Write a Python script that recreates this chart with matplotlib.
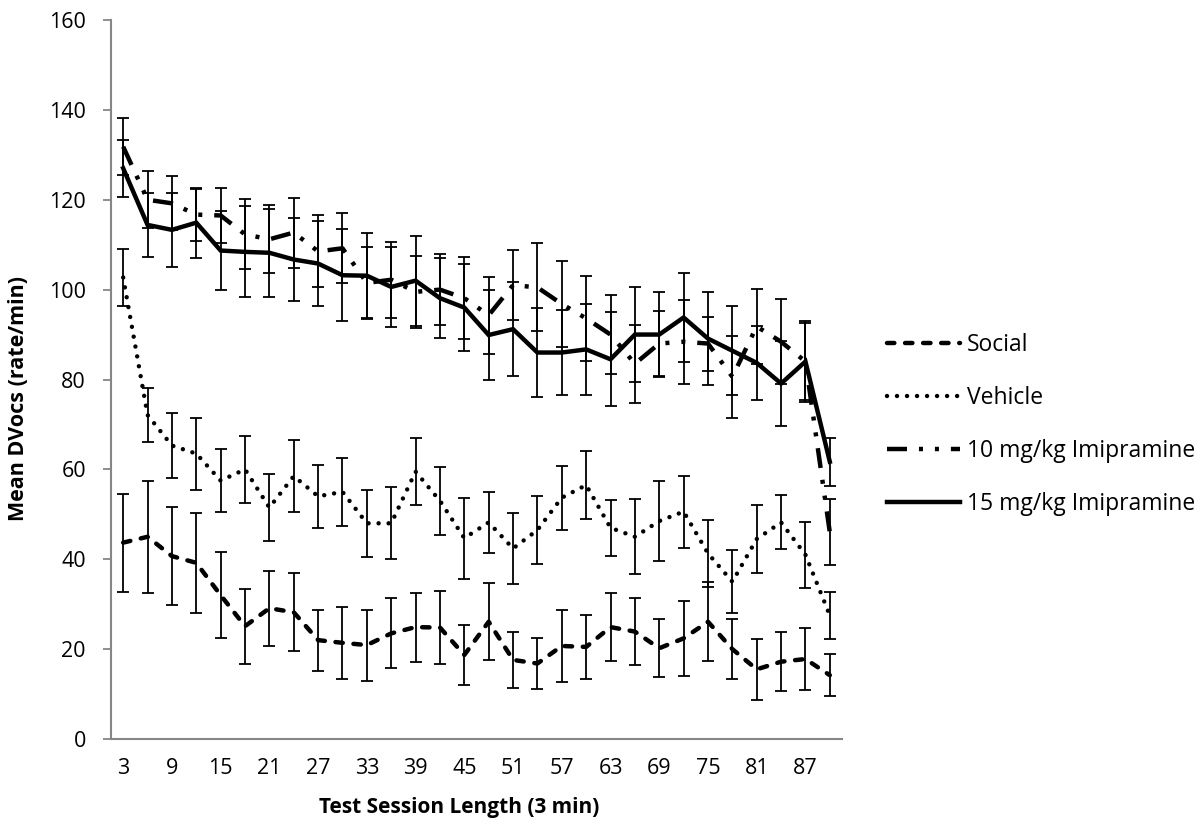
import matplotlib
matplotlib.use("Agg")
import matplotlib.pyplot as plt
import numpy as np

# ---- data ----
sessions = list(range(3, 91, 3))
tick_labels = [str(s) for s in sessions]

social = [43.7, 45.0, 40.7, 39.2, 32.0, 25.1, 29.1, 28.2, 22.0, 21.4, 20.9, 23.5, 24.9, 24.8, 18.7,
          26.1, 17.6, 16.8, 20.7, 20.5, 24.9, 23.9, 20.2, 22.4, 26.1, 20.0, 15.5, 17.2, 17.8, 14.2]
social_err = [10.9, 12.4, 10.9, 11.2, 9.6, 8.3, 8.3, 8.7, 6.8, 8.0, 7.9, 7.8, 7.7, 8.2, 6.6,
              8.6, 6.2, 5.6, 8.1, 7.2, 7.6, 7.4, 6.4, 8.3, 8.8, 6.6, 6.8, 6.6, 6.9, 4.7]

vehicle = [102.7, 72.1, 65.3, 63.5, 57.5, 60.0, 51.5, 58.5, 54.0, 55.0, 48.0, 48.0, 59.5, 53.0, 44.7,
           48.2, 42.4, 46.5, 53.7, 56.5, 47.0, 45.0, 48.5, 50.6, 41.3, 35.0, 44.5, 48.2, 41.0, 27.5]
vehicle_err = [6.4, 6.1, 7.2, 8.0, 7.0, 7.5, 7.5, 8.0, 7.0, 7.5, 7.5, 8.0, 7.5, 7.5, 9.0,
               6.8, 8.0, 7.6, 7.1, 7.5, 6.2, 8.3, 9.0, 8.0, 7.5, 7.0, 7.5, 6.0, 7.4, 5.3]

imi10 = [131.8, 120.0, 119.2, 116.7, 116.5, 112.3, 111.2, 112.7, 108.5, 109.2, 101.5, 102.2, 99.5, 100.0, 98.1,
         94.3, 101.0, 100.5, 96.8, 93.6, 90.0, 83.5, 88.0, 88.4, 88.0, 80.6, 91.8, 88.4, 84.0, 46.0]
imi10_err = [6.4, 6.3, 6.0, 5.8, 6.1, 7.8, 7.6, 7.8, 8.0, 7.8, 8.0, 8.5, 8.0, 7.9, 9.1,
             8.6, 7.8, 9.8, 9.6, 9.5, 8.8, 8.7, 7.3, 9.3, 6.0, 9.1, 8.3, 9.5, 8.5, 7.3]

imi15 = [127.0, 114.4, 113.3, 114.9, 108.7, 108.4, 108.2, 106.7, 105.8, 103.2, 103.1, 100.6, 102.0, 98.1, 96.0,
         89.9, 91.2, 86.0, 86.0, 86.7, 84.5, 90.0, 90.0, 93.8, 89.1, 86.4, 83.7, 79.1, 84.0, 61.7]
imi15_err = [6.3, 7.1, 8.2, 7.8, 8.8, 10.1, 9.8, 9.2, 9.4, 10.2, 9.5, 8.9, 10.0, 8.9, 9.6,
             10.1, 10.4, 10.0, 9.5, 10.2, 10.5, 10.5, 9.5, 10.0, 10.3, 9.9, 8.3, 9.5, 9.0, 5.3]

series_names = ["Social", "Vehicle", "10 mg/kg Imipramine", "15 mg/kg Imipramine"]

plt.rcParams['font.family'] = ['Open Sans', 'DejaVu Sans']
plt.rcParams['lines.scale_dashes'] = False

fig = plt.figure(figsize=(12.03, 8.34), dpi=100)
ax = fig.add_axes([111/1203, 1 - 739/834, (842 - 111)/1203, (739 - 20)/834])

x = np.arange(len(sessions))

for vals, errs in [(social, social_err), (vehicle, vehicle_err), (imi10, imi10_err), (imi15, imi15_err)]:
    ax.errorbar(x, vals, yerr=errs, fmt='none', ecolor='black', elinewidth=1.3,
                capsize=4.3, capthick=1.3, zorder=2)

lw = 3.2
l1, = ax.plot(x, social, color='black', lw=lw, dashes=(5.3, 7.7), dash_capstyle='round',
              solid_capstyle='round', zorder=3, label=series_names[0])
l2, = ax.plot(x, vehicle, color='black', lw=lw, dashes=(0.01, 7.2), dash_capstyle='round',
              zorder=3, label=series_names[1])
l3, = ax.plot(x, imi10, color='black', lw=lw, dashes=(14.4, 8.6, 2.9, 8.6, 2.9, 8.6),
              dash_capstyle='butt', zorder=3, label=series_names[2])
l4, = ax.plot(x, imi15, color='black', lw=lw, solid_joinstyle='miter', zorder=4,
              label=series_names[3])

ax.set_xlim(-0.5, len(sessions) - 0.5)
ax.set_ylim(0, 160)
ax.set_yticks(np.arange(0, 161, 20))
ax.set_xticks(x[::2])
ax.set_xticklabels(tick_labels[::2])

for side in ['top', 'right']:
    ax.spines[side].set_visible(False)
for side in ['left', 'bottom']:
    ax.spines[side].set_color('#868686')
    ax.spines[side].set_linewidth(1.5)

ax.tick_params(axis='y', direction='out', length=6, width=1.3, color='#868686',
               labelsize=15.5, pad=12)
ax.tick_params(axis='x', length=0, labelsize=15.5, pad=14)

ax.set_xlabel("Test Session Length (3 min)", fontsize=15, fontweight='bold')
ax.set_ylabel("Mean DVocs (rate/min)", fontsize=15.5, fontweight='bold')
ax.xaxis.set_label_coords(0.477, -0.081)
ax.yaxis.set_label_coords(-0.112, 0.474)

leg = ax.legend(handles=[l1, l2, l3, l4], loc='center left', bbox_to_anchor=(1.034, 0.437),
                frameon=False, fontsize=16.5, handlelength=3.15, handletextpad=0.3,
                labelspacing=1.27)

fig.savefig("out.png", dpi=100)
